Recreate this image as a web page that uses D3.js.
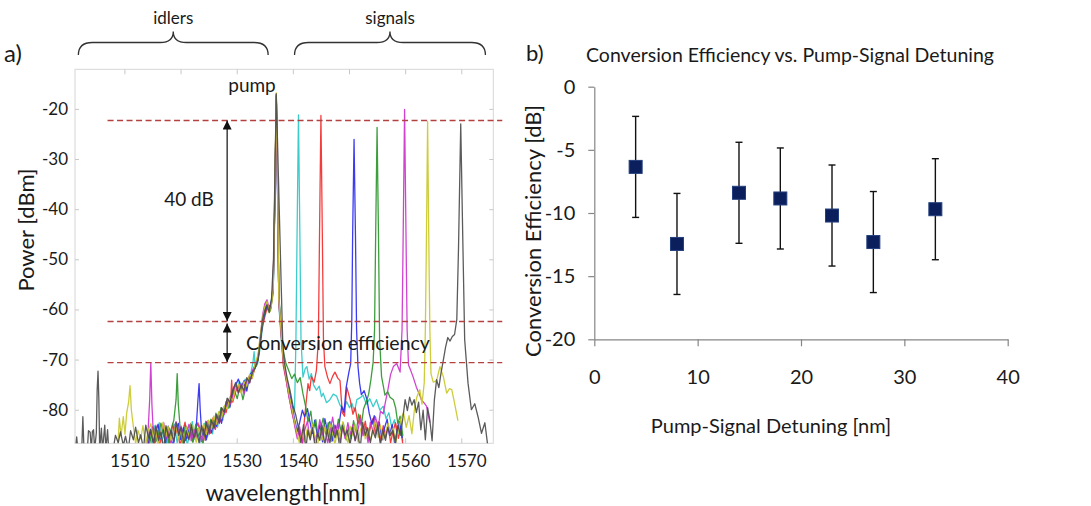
<!DOCTYPE html>
<html>
<head>
<meta charset="utf-8">
<script src="https://cdn.jsdelivr.net/npm/d3@7"></script>
<style>
  body { margin: 0; background: #fff; }
  svg text { font-family: Lato, "Open Sans", sans-serif; fill: #1a1a1a; }
</style>
</head>
<body>
<svg id="fig" width="1091" height="506"></svg>
<script>
// ---- panel a: spectra ----
var wlTicks = [1510, 1520, 1530, 1540, 1550, 1560, 1570];
var powerTicks = [-80, -70, -60, -50, -40, -30, -20];
var levelLines = [-22.3, -62.4, -70.6]; // signal level, idler level, idler floor

// [wavelength nm, power dBm]
var cyanTrace = [[1514.0,-88],[1514.4,-84.5],[1514.9,-86.8],[1515.3,-83.2],[1515.8,-85.9],[1516.2,-82.6],[1516.7,-86.4],[1517.1,-84.1],[1517.6,-87.5],[1518.0,-83.7],[1518.5,-85.2],[1518.9,-82.9],[1519.4,-86.6],[1519.8,-84.3],[1520.3,-85.8],[1520.7,-83.1],[1521.2,-87.2],[1521.6,-84.6],[1522.1,-82.4],[1522.5,-85.9],[1523.0,-83.8],[1523.4,-86.7],[1523.9,-84.0],[1524.3,-82.7],[1524.8,-85.4],[1525.2,-83.2],[1525.7,-84.8],[1526.1,-81.9],[1526.6,-83.5],[1527.0,-80.8],[1527.5,-82.1],
  [1528.0,-79.6],[1528.5,-78.2],[1529.0,-77.0],[1529.5,-75.4],[1530.0,-76.1],[1530.5,-74.3],[1531.0,-75.8],[1531.5,-73.9],[1532.0,-74.6],[1532.5,-72.8],[1532.9,-70.5],[1533.1,-68.4],[1533.3,-71.6],[1533.7,-70.9],[1534.1,-68.2],[1534.5,-64.5],[1534.9,-61.3],[1535.3,-59.6],[1535.7,-60.4],[1536.1,-58.8],[1536.5,-55.5],[1536.8,-38],[1537.05,-17.2],[1537.3,-38],[1537.5,-59],[1537.9,-65.5],[1538.3,-70.2],[1538.8,-73.6],[1539.3,-76.4],[1539.8,-79.2],[1540.3,-80.1],[1540.55,-66],[1540.75,-45],[1541.0,-21.2],[1541.25,-45],[1541.45,-66],[1541.8,-73.5],[1542.2,-71.8],[1542.5,-71.4],[1542.9,-73.9],[1543.3,-72.8],[1543.7,-75.1],[1544.2,-76.1],[1544.7,-75.3],[1545.1,-77.4],[1545.4,-76.7],[1546.0,-78.6],[1546.6,-78.0],[1547.2,-76.9],[1547.8,-77.3],[1548.4,-79.1],[1549.0,-80.0],[1549.6,-78.4],[1550.1,-79.6],[1550.5,-78.7],[1551.0,-80.3],[1551.4,-78.0],[1552.0,-77.6],[1552.5,-77.1],[1553.1,-78.9],[1553.7,-77.8],[1554.3,-79.4],[1554.9,-78.0],[1555.5,-80.1],[1556.1,-79.3],[1556.6,-81.8],[1557.1,-80.6],[1557.6,-83.4],[1558.1,-82.0],[1558.6,-85.1],[1559.1,-83.3],[1559.6,-86.2]];

var redTrace = [[1514.1,-88],[1514.5,-85.3],[1515.0,-83.4],[1515.4,-86.9],[1515.9,-84.2],[1516.3,-87.1],[1516.8,-83.0],[1517.2,-85.6],[1517.7,-84.3],[1518.1,-86.8],[1518.6,-82.8],[1519.0,-85.1],[1519.5,-83.6],[1519.9,-87.4],[1520.4,-84.4],[1520.8,-82.5],[1521.3,-85.7],[1521.7,-83.9],[1522.2,-86.3],[1522.6,-84.1],[1523.1,-82.6],[1523.5,-85.0],[1524.0,-83.3],[1524.4,-86.1],[1524.9,-82.2],[1525.3,-84.7],[1525.8,-81.6],[1526.2,-83.9],[1526.7,-80.9],[1527.1,-82.4],[1527.6,-79.8],
  [1528.1,-80.6],[1528.6,-77.9],[1528.9,-78.8],[1529.1,-74.1],[1529.3,-78.5],[1529.7,-76.8],[1530.2,-75.2],[1530.7,-76.4],[1531.2,-74.6],[1531.7,-75.9],[1532.2,-73.4],[1532.7,-73.8],[1533.2,-71.9],[1533.7,-70.4],[1534.1,-67.6],[1534.5,-63.8],[1534.9,-61.9],[1535.3,-60.2],[1535.7,-59.1],[1536.1,-59.7],[1536.5,-54.8],[1536.8,-36],[1537.05,-17.6],[1537.3,-37],[1537.5,-58.5],[1537.9,-64.8],[1538.3,-71.2],[1538.8,-74.1],[1539.3,-77.2],[1539.8,-80.4],[1540.3,-82.6],[1540.8,-85.2],[1541.2,-83.9],[1541.7,-86.8],[1542.1,-81.5],[1542.7,-74.8],[1543.0,-76.2],[1543.3,-73.4],[1543.8,-74.5],[1544.2,-72.1],[1544.55,-66],[1544.75,-45],[1545.0,-21.3],[1545.25,-45],[1545.45,-66],[1545.7,-71.4],[1546.2,-73.6],[1546.6,-74.8],[1547.1,-73.3],[1547.5,-72.5],[1548.0,-73.7],[1548.4,-74.2],[1548.8,-80.6],[1549.2,-81.3],[1549.6,-75.5],[1550.2,-78.0],[1550.7,-80.9],[1551.1,-79.6],[1551.6,-82.8],[1552.0,-81.1],[1552.5,-84.6],[1552.9,-82.3],[1553.4,-85.8],[1553.8,-83.5],[1554.3,-81.7],[1554.7,-84.9],[1555.2,-82.4],[1555.6,-86.3],[1556.1,-83.2],[1556.5,-85.4],[1557.0,-82.9],[1557.4,-86.6],[1557.9,-84.0],[1558.3,-82.6],[1558.8,-85.7],[1559.2,-83.8],[1559.6,-87.0]];

var blueTrace = [[1514.2,-88],[1514.6,-83.9],[1515.1,-86.2],[1515.5,-84.7],[1516.0,-82.9],[1516.4,-85.8],[1516.9,-84.0],[1517.3,-86.9],[1517.8,-83.3],[1518.2,-85.4],[1518.7,-87.3],[1519.1,-84.2],[1519.6,-82.7],[1520.0,-85.9],[1520.5,-83.6],[1520.9,-86.1],[1521.4,-84.4],[1521.8,-82.8],[1522.3,-85.5],[1522.8,-83.4],[1523.1,-78],[1523.3,-74.8],[1523.5,-80],[1523.8,-85.2],[1524.2,-83.7],[1524.6,-86.0],[1525.1,-82.5],[1525.5,-84.6],[1526.0,-82.0],[1526.4,-83.3],[1526.9,-80.5],[1527.3,-82.7],[1527.8,-79.4],
  [1528.3,-78.6],[1528.8,-79.5],[1529.3,-76.6],[1529.8,-75.1],[1530.3,-73.9],[1530.8,-75.6],[1531.3,-74.2],[1531.8,-76.3],[1532.3,-73.1],[1532.8,-72.4],[1533.3,-71.2],[1533.8,-69.8],[1534.2,-66.4],[1534.6,-62.9],[1535.0,-60.8],[1535.4,-59.2],[1535.8,-60.1],[1536.2,-58.3],[1536.5,-56.2],[1536.8,-39],[1537.05,-17.4],[1537.3,-39],[1537.5,-57.8],[1537.9,-63.5],[1538.3,-69.8],[1538.8,-73.2],[1539.3,-76.0],[1539.8,-78.8],[1540.3,-81.9],[1540.8,-84.3],[1541.2,-82.6],[1541.7,-80.1],[1542.1,-81.4],[1542.6,-79.8],[1543.0,-82.2],[1543.5,-84.7],[1543.9,-82.1],[1544.4,-85.3],[1544.8,-83.0],[1545.3,-86.4],[1545.7,-81.8],[1546.2,-84.5],[1546.6,-82.4],[1547.1,-86.2],[1547.5,-83.1],[1548.0,-85.0],[1548.4,-81.6],[1548.7,-79.3],[1549.1,-80.6],[1549.5,-75.5],[1550.0,-72.4],[1550.3,-70.8],[1550.5,-62],[1550.65,-45],[1550.9,-26.1],[1551.15,-45],[1551.35,-64],[1551.6,-71.4],[1551.9,-74.8],[1552.2,-77.0],[1552.7,-76.2],[1553.2,-78.0],[1553.6,-80.7],[1554.1,-82.9],[1554.5,-81.2],[1555.0,-84.8],[1555.4,-82.5],[1555.9,-86.0],[1556.3,-83.7],[1556.8,-81.9],[1557.2,-85.1],[1557.7,-83.0],[1558.1,-86.5],[1558.6,-84.1],[1559.0,-82.4],[1559.5,-85.6]];

var greenTrace = [[1514.3,-88],[1514.7,-85.6],[1515.2,-83.6],[1515.6,-86.4],[1516.1,-84.8],[1516.5,-82.7],[1517.0,-85.3],[1517.4,-83.5],[1517.9,-86.7],[1518.3,-84.0],[1518.8,-82.1],[1519.2,-78],[1519.4,-72.8],[1519.6,-79],[1520.0,-84.6],[1520.4,-86.8],[1520.9,-83.2],[1521.3,-85.1],[1521.8,-83.7],[1522.2,-86.5],[1522.7,-82.9],[1523.1,-85.3],[1523.6,-84.1],[1524.0,-86.9],[1524.5,-82.3],[1524.9,-84.3],[1525.4,-81.9],[1525.8,-83.7],[1526.3,-80.7],[1526.7,-82.5],[1527.2,-79.6],[1527.6,-81.2],
  [1528.1,-78.4],[1528.6,-79.7],[1529.1,-77.1],[1529.6,-76.2],[1530.1,-77.8],[1530.6,-75.1],[1531.1,-78.0],[1531.6,-75.6],[1532.1,-74.2],[1532.6,-73.5],[1533.1,-72.1],[1533.6,-70.8],[1534.0,-68.1],[1534.4,-64.2],[1534.8,-61.5],[1535.2,-58.7],[1535.6,-59.6],[1536.0,-60.3],[1536.5,-56.7],[1536.8,-37],[1537.05,-17.0],[1537.3,-37],[1537.5,-57.2],[1537.9,-63.1],[1538.3,-68.4],[1538.8,-70.9],[1539.3,-72.3],[1539.8,-73.8],[1540.3,-72.9],[1540.8,-74.6],[1541.3,-73.6],[1541.8,-76.8],[1542.3,-79.5],[1542.7,-82.4],[1543.2,-80.3],[1543.6,-84.1],[1544.1,-82.0],[1544.5,-85.7],[1545.0,-83.4],[1545.4,-81.7],[1545.9,-84.8],[1546.3,-82.6],[1546.8,-86.3],[1547.2,-83.0],[1547.7,-85.2],[1548.1,-81.9],[1548.6,-84.3],[1549.0,-82.7],[1549.5,-86.0],[1549.9,-83.6],[1550.4,-85.8],[1550.8,-82.2],[1551.3,-84.6],[1551.7,-80.9],[1552.2,-83.1],[1552.6,-79.8],[1553.1,-78.3],[1553.5,-76.9],[1553.9,-74.0],[1554.3,-70.5],[1554.55,-64],[1554.75,-45],[1555.0,-23.7],[1555.25,-45],[1555.45,-66],[1555.8,-73.4],[1556.1,-75.2],[1556.4,-77.1],[1556.9,-76.4],[1557.3,-77.5],[1557.9,-78.0],[1558.3,-79.6],[1558.7,-82.8],[1559.1,-81.3],[1559.6,-85.2]];

var magentaTrace = [[1513.9,-88],[1514.2,-84.6],[1514.5,-78],[1514.7,-70.6],[1514.9,-79],[1515.2,-85.8],[1515.6,-83.1],[1516.1,-86.3],[1516.5,-84.4],[1517.0,-82.6],[1517.4,-85.7],[1517.9,-83.9],[1518.3,-86.6],[1518.8,-84.2],[1519.2,-82.4],[1519.7,-85.4],[1520.1,-83.3],[1520.6,-87.0],[1521.0,-84.7],[1521.5,-82.9],[1521.9,-86.2],[1522.4,-84.0],[1522.8,-85.6],[1523.3,-83.1],[1523.7,-86.4],[1524.2,-84.5],[1524.6,-82.4],[1525.1,-84.9],[1525.5,-82.6],[1526.0,-83.8],[1526.4,-81.1],[1526.9,-82.8],[1527.3,-80.2],
  [1527.8,-80.9],[1528.3,-78.1],[1528.8,-78.9],[1529.3,-77.4],[1529.8,-74.9],[1530.3,-76.7],[1530.8,-74.8],[1531.3,-76.9],[1531.8,-74.0],[1532.3,-74.7],[1532.8,-72.2],[1533.3,-71.0],[1533.8,-69.4],[1534.2,-65.6],[1534.6,-61.2],[1535.0,-58.9],[1535.4,-58.1],[1535.8,-59.9],[1536.2,-58.6],[1536.5,-55.1],[1536.8,-38],[1537.05,-17.3],[1537.3,-38],[1537.5,-58.3],[1537.9,-64.3],[1538.3,-70.5],[1538.8,-73.9],[1539.3,-77.5],[1539.8,-80.0],[1540.3,-83.1],[1540.8,-85.8],[1541.2,-83.4],[1541.7,-86.9],[1542.1,-84.1],[1542.6,-82.3],[1543.0,-85.5],[1543.5,-83.2],[1543.9,-86.1],[1544.4,-84.6],[1544.8,-82.0],[1545.3,-85.0],[1545.7,-83.4],[1546.2,-86.7],[1546.6,-84.3],[1547.1,-81.5],[1547.5,-84.8],[1548.0,-82.7],[1548.4,-86.4],[1548.9,-83.5],[1549.3,-85.7],[1549.8,-82.6],[1550.2,-84.9],[1550.7,-83.0],[1551.1,-86.2],[1551.6,-84.0],[1552.0,-81.8],[1552.5,-85.2],[1552.9,-83.3],[1553.4,-86.6],[1553.8,-82.5],[1554.3,-84.4],[1554.7,-81.4],[1555.2,-83.6],[1555.6,-80.3],[1556.1,-80.8],[1556.5,-78.4],[1556.9,-76.2],[1557.4,-73.0],[1557.9,-71.4],[1558.5,-70.8],[1559.1,-72.5],[1559.45,-64],[1559.65,-45],[1559.9,-20.1],[1560.15,-45],[1560.35,-64],[1560.6,-71.1],[1561.0,-72.2],[1561.4,-73.4],[1562.0,-75.5],[1562.5,-76.8],[1562.9,-78.0],[1563.4,-78.7],[1563.8,-79.3],[1564.4,-82.6]];

var yellowTrace = [[1508.8,-88],[1509.1,-81.7],[1509.4,-85.2],[1509.8,-81.4],[1510.1,-84.9],[1510.4,-80.7],[1510.75,-78.5],[1511.0,-75.2],[1511.25,-80.2],[1511.6,-83.4],[1512.0,-86.7],[1512.4,-84.1],[1512.9,-85.8],[1513.3,-83.2],[1513.8,-86.9],[1514.2,-84.3],[1514.7,-82.8],[1515.1,-85.6],[1515.6,-83.8],[1516.0,-87.2],[1516.5,-84.6],[1516.9,-82.5],[1517.4,-85.3],[1517.8,-83.4],[1518.3,-86.1],[1518.7,-84.8],[1519.2,-82.9],[1519.6,-85.9],[1520.1,-84.0],[1520.5,-86.8],[1521.0,-83.5],[1521.4,-85.4],[1521.9,-82.6],[1522.3,-84.7],[1522.8,-86.5],[1523.2,-83.6],[1523.7,-85.1],[1524.1,-82.8],[1524.6,-84.9],[1525.0,-82.1],[1525.5,-83.9],[1525.9,-81.3],[1526.4,-82.9],[1526.8,-80.4],[1527.3,-81.8],
  [1527.8,-79.2],[1528.3,-79.9],[1528.8,-77.6],[1529.3,-78.1],[1529.8,-75.7],[1530.3,-75.0],[1530.8,-76.8],[1531.3,-74.4],[1531.8,-75.3],[1532.3,-72.9],[1532.8,-73.6],[1533.3,-70.7],[1533.8,-69.0],[1534.2,-65.1],[1534.6,-61.8],[1535.0,-59.5],[1535.4,-58.4],[1535.8,-60.7],[1536.2,-59.1],[1536.5,-55.9],[1536.8,-35],[1537.05,-16.8],[1537.3,-36],[1537.5,-58.0],[1537.9,-64.0],[1538.3,-70.0],[1538.8,-73.3],[1539.3,-76.7],[1539.8,-79.6],[1540.3,-82.4],[1540.8,-84.9],[1541.2,-86.8],[1541.7,-84.0],[1542.1,-86.3],[1542.6,-83.7],[1543.0,-85.8],[1543.5,-82.9],[1543.9,-85.2],[1544.4,-87.1],[1544.8,-84.2],[1545.3,-86.0],[1545.7,-83.5],[1546.2,-85.4],[1546.6,-82.8],[1547.1,-84.7],[1547.5,-86.9],[1548.0,-83.9],[1548.4,-85.6],[1548.9,-82.4],[1549.3,-84.5],[1549.8,-86.6],[1550.2,-83.3],[1550.7,-85.1],[1551.1,-82.9],[1551.6,-86.4],[1552.0,-84.2],[1552.5,-82.5],[1552.9,-85.8],[1553.4,-83.7],[1553.8,-86.2],[1554.3,-84.0],[1554.7,-82.2],[1555.2,-85.5],[1555.6,-83.1],[1556.1,-86.0],[1556.5,-84.4],[1557.0,-82.7],[1557.4,-85.2],[1557.9,-83.6],[1558.3,-86.7],[1558.8,-84.1],[1559.2,-82.0],[1559.7,-80.6],[1560.2,-83.5],[1560.7,-81.2],[1561.2,-84.8],[1561.7,-79.5],[1562.1,-77.4],[1562.6,-76.0],[1563.0,-78.9],[1563.4,-74.6],[1563.6,-64],[1563.8,-45],[1564.0,-22.5],[1564.2,-45],[1564.4,-64],[1564.6,-72.8],[1565.0,-74.5],[1565.6,-74.2],[1566.2,-71.4],[1566.8,-73.4],[1567.4,-76.7],[1567.9,-75.8],[1568.3,-76.0],[1568.8,-78.7],[1569.4,-82.2]];

var grayTrace = [[1501.3,-88],[1501.5,-85.4],[1501.7,-88],[1502.4,-88],[1502.6,-81.4],[1502.8,-88],[1503.4,-88],[1503.6,-84.2],[1503.9,-84.5],[1504.1,-88],[1504.3,-84.3],[1504.5,-84.0],[1504.7,-88],[1505.0,-84.6],[1505.15,-76],[1505.3,-72.3],[1505.45,-78],[1505.6,-88],[1505.9,-83.7],[1506.1,-88],[1506.5,-83.1],[1506.7,-88],[1507.0,-84.0],[1507.2,-88],
  [1508.0,-88],[1508.4,-85.1],[1508.9,-86.6],[1509.3,-84.4],[1509.8,-87.1],[1510.2,-85.3],[1510.7,-87.9],[1511.1,-84.2],[1511.6,-86.0],[1512.0,-83.5],[1512.5,-86.6],[1512.9,-85.0],[1513.4,-87.8],[1513.8,-83.1],[1514.3,-85.6],[1514.7,-84.0],[1515.2,-87.0],[1515.6,-83.4],[1516.1,-86.1],[1516.5,-84.5],[1517.0,-87.9],[1517.4,-83.2],[1517.9,-85.5],[1518.3,-84.1],[1518.8,-86.4],[1519.2,-82.6],[1519.7,-85.1],[1520.1,-83.5],[1520.6,-87.0],[1521.0,-84.2],[1521.5,-86.0],[1521.9,-83.0],[1522.4,-85.6],[1522.8,-84.0],[1523.3,-86.6],[1523.7,-83.2],[1524.2,-85.1],[1524.6,-82.6],[1525.1,-84.6],[1525.5,-82.1],[1526.0,-83.6],[1526.4,-81.0],[1526.9,-82.6],[1527.3,-79.6],
  [1527.8,-80.5],[1528.3,-77.7],[1528.8,-78.6],[1529.3,-76.1],[1529.8,-74.6],[1530.3,-76.6],[1530.8,-75.1],[1531.3,-76.2],[1531.8,-73.6],[1532.3,-74.6],[1532.8,-72.6],[1533.3,-71.6],[1533.8,-70.1],[1534.2,-66.1],[1534.6,-62.1],[1535.0,-60.2],[1535.4,-59.1],[1535.8,-60.6],[1536.2,-57.9],[1536.55,-50],[1536.85,-30],[1537.05,-17.0],[1537.9,-54.1],[1538.2,-66.5],[1538.5,-70.6],[1539.0,-73.8],[1539.5,-76.2],[1540.0,-79.1],[1540.5,-81.0],[1541.0,-83.6],[1541.4,-86.5],[1541.9,-83.0],[1542.3,-87.9],[1542.7,-84.1],[1543.1,-86.0],[1543.5,-83.6],[1544.0,-87.8],[1544.4,-84.6],[1544.8,-86.1],[1545.2,-83.1],[1545.7,-87.0],[1546.1,-84.1],[1546.6,-86.6],[1547.0,-83.6],[1547.5,-85.6],[1547.9,-84.1],[1548.4,-87.9],[1548.8,-83.1],[1549.3,-85.1],[1549.7,-84.1],[1550.2,-87.0],[1550.6,-83.6],[1551.1,-86.1],[1551.5,-84.1],[1552.0,-87.9],[1552.4,-82.6],[1552.9,-85.1],[1553.3,-83.6],[1553.8,-86.6],[1554.2,-84.1],[1554.7,-85.6],[1555.1,-83.1],[1555.6,-87.0],[1556.0,-84.1],[1556.5,-86.1],[1556.9,-83.6],[1557.4,-85.1],[1557.8,-84.1],[1558.3,-86.6],[1558.7,-83.1],[1559.2,-85.1],[1559.6,-81.6],
  [1560.0,-78.0],[1560.4,-80.2],[1560.8,-77.5],[1561.2,-79.1],[1561.6,-78.0],[1562.0,-80.6],[1562.4,-78.5],[1562.8,-84.0],[1563.2,-80.1],[1563.6,-86.0],[1564.0,-79.6],[1564.4,-82.1],[1564.8,-86.2],[1565.2,-78.1],[1565.6,-74.0],[1566.0,-75.6],[1566.4,-72.6],[1566.8,-70.1],[1567.2,-67.5],[1567.6,-65.6],[1568.0,-66.3],[1568.4,-65.4],[1568.8,-65.0],[1569.2,-62.0],[1569.5,-48],[1569.9,-23.0],[1570.3,-48],[1570.6,-66.0],[1571.2,-74.7],[1571.8,-80.0],[1572.4,-78.8],[1573.0,-81.5],[1573.6,-84.7],[1574.2,-82.6],[1574.8,-88]];

var traces = [
  { name: 'cyan', color: '#2cc8c8', pts: cyanTrace },
  { name: 'red', color: '#f22c2c', pts: redTrace },
  { name: 'blue', color: '#2a2af0', pts: blueTrace },
  { name: 'green', color: '#2b962b', pts: greenTrace },
  { name: 'magenta', color: '#cc33cc', pts: magentaTrace },
  { name: 'yellow', color: '#c9c92a', pts: yellowTrace },
  { name: 'gray', color: '#4d4d4d', pts: grayTrace }
];

// ---- panel b: conversion efficiency ----
var detuning = [4, 8, 14, 18, 23, 27, 33];
var efficiency = [-6.35, -12.45, -8.4, -8.85, -10.2, -12.3, -9.7];
var effError = [4, 4, 4, 4, 4, 4, 4];
var detuningTicks = [0, 10, 20, 30, 40];
var effTicks = [0, -5, -10, -15, -20];

var svg = d3.select('#fig');
var plainNum = function(d) { return String(d); }; // keep ascii hyphen like the original

// ================= panel a =================
var xA = d3.scaleLinear().domain([1501.2, 1575.7]).range([75, 493.3]);
var yA = d3.scaleLinear().domain([-86.7, -12.1]).range([443.3, 69.3]);

var gA = svg.append('g');

gA.append('rect')
  .attr('x', xA.range()[0]).attr('y', yA.range()[1])
  .attr('width', xA.range()[1] - xA.range()[0])
  .attr('height', yA.range()[0] - yA.range()[1])
  .attr('fill', 'none').attr('stroke', '#d6d6d6');

function styleAxis(g) {
  g.select('.domain').remove();
  g.selectAll('line').attr('stroke', '#c8c8c8');
  g.selectAll('text').style('font-size', '17px').attr('fill', '#222');
}

gA.append('g').attr('transform', 'translate(' + xA.range()[0] + ',0)')
  .call(d3.axisLeft(yA).tickValues(powerTicks).tickSizeInner(-4).tickSizeOuter(0).tickPadding(7).tickFormat(plainNum))
  .call(styleAxis);
gA.append('g').attr('transform', 'translate(' + xA.range()[1] + ',0)')
  .call(d3.axisRight(yA).tickValues(powerTicks).tickSizeInner(-4).tickSizeOuter(0).tickFormat(''))
  .call(styleAxis);
gA.append('g').attr('transform', 'translate(0,' + yA.range()[1] + ')')
  .call(d3.axisTop(xA).tickValues(wlTicks).tickSizeInner(-5).tickSizeOuter(0).tickFormat(''))
  .call(styleAxis);
gA.append('g').attr('transform', 'translate(0,' + yA.range()[0] + ')')
  .call(d3.axisBottom(xA).tickValues(wlTicks).tickSizeInner(-5).tickSizeOuter(0).tickPadding(12).tickFormat(plainNum))
  .call(styleAxis)
  .selectAll('text').attr('dx', 5);

gA.append('clipPath').attr('id', 'clipA')
  .append('rect')
  .attr('x', xA.range()[0]).attr('y', yA.range()[1])
  .attr('width', xA.range()[1] - xA.range()[0])
  .attr('height', yA.range()[0] - yA.range()[1]);

var lineA = d3.line().x(function(d) { return xA(d[0]); }).y(function(d) { return yA(d[1]); });

gA.append('g').attr('clip-path', 'url(#clipA)')
  .selectAll('path')
  .data(traces)
  .enter().append('path')
  .attr('d', function(d) { return lineA(d.pts); })
  .attr('fill', 'none')
  .attr('stroke', function(d) { return d.color; })
  .attr('stroke-width', 1.3)
  .attr('stroke-linejoin', 'round')
  .attr('opacity', 0.92);

// dashed reference levels
gA.selectAll('.level')
  .data(levelLines)
  .enter().append('line')
  .attr('class', 'level')
  .attr('x1', xA(1507.0)).attr('x2', xA(1577.3))
  .attr('y1', function(d) { return yA(d); })
  .attr('y2', function(d) { return yA(d); })
  .attr('stroke', '#b2413f')
  .attr('stroke-width', 1.4)
  .attr('stroke-dasharray', '6,3.5');

// arrows
var defs = svg.append('defs');
defs.append('marker').attr('id', 'head')
  .attr('viewBox', '0 0 10 10').attr('refX', 10).attr('refY', 5)
  .attr('markerUnits', 'userSpaceOnUse')
  .attr('markerWidth', 10).attr('markerHeight', 9)
  .attr('orient', 'auto-start-reverse')
  .append('path').attr('d', 'M0,0 L10,5 L0,10 Z').attr('fill', '#111');

var arrowX = xA(1528.3);
gA.append('line')
  .attr('x1', arrowX).attr('x2', arrowX)
  .attr('y1', yA(levelLines[0])).attr('y2', yA(levelLines[1]) - 0.5)
  .attr('stroke', '#222').attr('stroke-width', 1.3)
  .attr('marker-start', 'url(#head)').attr('marker-end', 'url(#head)');
gA.append('line')
  .attr('x1', arrowX).attr('x2', arrowX)
  .attr('y1', yA(levelLines[1]) + 2).attr('y2', yA(levelLines[2]) - 0.5)
  .attr('stroke', '#222').attr('stroke-width', 1.3)
  .attr('marker-start', 'url(#head)').attr('marker-end', 'url(#head)');

// annotations
gA.append('text').attr('x', 252).attr('y', 92).attr('text-anchor', 'middle')
  .style('font-size', '19px').text('pump');
gA.append('text').attr('x', 189).attr('y', 206).attr('text-anchor', 'middle')
  .style('font-size', '19px').text('40 dB');
gA.append('text').attr('x', 338).attr('y', 350).attr('text-anchor', 'middle')
  .style('font-size', '19.5px').text('Conversion efficiency');

// axis titles
gA.append('text').attr('x', 286).attr('y', 501).attr('text-anchor', 'middle')
  .style('font-size', '23px').text('wavelength[nm]');
gA.append('text').attr('transform', 'translate(34,230) rotate(-90)').attr('text-anchor', 'middle')
  .style('font-size', '22px').text('Power [dBm]');
gA.append('text').attr('x', 4).attr('y', 62).style('font-size', '24px').text('a)');

// braces over idlers / signals
function bracePath(x0, x1, yEnd, yMid, yTip) {
  var m = (x0 + x1) / 2;
  return 'M' + x0 + ',' + yEnd +
    ' Q' + x0 + ',' + yMid + ' ' + (x0 + 14) + ',' + yMid +
    ' L' + (m - 13) + ',' + yMid +
    ' Q' + m + ',' + yMid + ' ' + m + ',' + yTip +
    ' Q' + m + ',' + yMid + ' ' + (m + 13) + ',' + yMid +
    ' L' + (x1 - 14) + ',' + yMid +
    ' Q' + x1 + ',' + yMid + ' ' + x1 + ',' + yEnd;
}
var braces = [
  { label: 'idlers', from: 1501.8, to: 1535.6 },
  { label: 'signals', from: 1540.3, to: 1574.3 }
];
braces.forEach(function(b) {
  var x0 = xA(b.from), x1 = xA(b.to);
  gA.append('path').attr('d', bracePath(x0, x1, 55, 42.5, 31.5))
    .attr('fill', 'none').attr('stroke', '#333').attr('stroke-width', 1.3);
  gA.append('text').attr('x', (x0 + x1) / 2).attr('y', 24).attr('text-anchor', 'middle')
    .style('font-size', '17px').text(b.label);
});

// ================= panel b =================
var xB = d3.scaleLinear().domain([0, 40]).range([594.3, 1007.7]);
var yB = d3.scaleLinear().domain([-20, 0]).range([339.3, 86.7]);

var gB = svg.append('g');

function styleAxisB(g) {
  g.selectAll('.domain, line').attr('stroke', '#868686').attr('stroke-width', 1.2);
  g.selectAll('text').style('font-size', '20px').attr('fill', '#222');
}

gB.append('g').attr('transform', 'translate(' + xB.range()[0] + ',0)')
  .call(d3.axisLeft(yB).tickValues(effTicks).tickSizeInner(6).tickSizeOuter(0).tickPadding(13).tickFormat(plainNum))
  .call(styleAxisB);
gB.append('g').attr('transform', 'translate(0,' + yB.range()[0] + ')')
  .call(d3.axisBottom(xB).tickValues(detuningTicks).tickSizeInner(7).tickSizeOuter(0).tickPadding(24).tickFormat(plainNum))
  .call(styleAxisB);

// error bars
var bars = gB.selectAll('.err')
  .data(detuning)
  .enter().append('g').attr('class', 'err');
bars.append('line')
  .attr('x1', function(d) { return xB(d); }).attr('x2', function(d) { return xB(d); })
  .attr('y1', function(d, i) { return yB(efficiency[i] + effError[i]); })
  .attr('y2', function(d, i) { return yB(efficiency[i] - effError[i]); })
  .attr('stroke', '#111').attr('stroke-width', 1.4);
[1, -1].forEach(function(s) {
  bars.append('line')
    .attr('x1', function(d) { return xB(d) - 3.5; }).attr('x2', function(d) { return xB(d) + 3.5; })
    .attr('y1', function(d, i) { return yB(efficiency[i] + s * effError[i]); })
    .attr('y2', function(d, i) { return yB(efficiency[i] + s * effError[i]); })
    .attr('stroke', '#111').attr('stroke-width', 1.4);
});

// square markers
var sq = 13;
gB.selectAll('.pt')
  .data(detuning)
  .enter().append('rect').attr('class', 'pt')
  .attr('x', function(d) { return xB(d) - sq / 2; })
  .attr('y', function(d, i) { return yB(efficiency[i]) - sq / 2; })
  .attr('width', sq).attr('height', sq)
  .attr('fill', '#0b1f5c').attr('stroke', '#243f7f').attr('stroke-width', 1);

gB.append('text').attr('x', 790).attr('y', 62).attr('text-anchor', 'middle')
  .style('font-size', '19.5px').text('Conversion Efficiency vs. Pump-Signal Detuning');
gB.append('text').attr('x', 771).attr('y', 433).attr('text-anchor', 'middle')
  .style('font-size', '20px').text('Pump-Signal Detuning [nm]');
gB.append('text').attr('transform', 'translate(541,231) rotate(-90)').attr('text-anchor', 'middle')
  .style('font-size', '22px').text('Conversion Efficiency [dB]');
gB.append('text').attr('x', 526).attr('y', 61).style('font-size', '22px').text('b)');
</script>
</body>
</html>
